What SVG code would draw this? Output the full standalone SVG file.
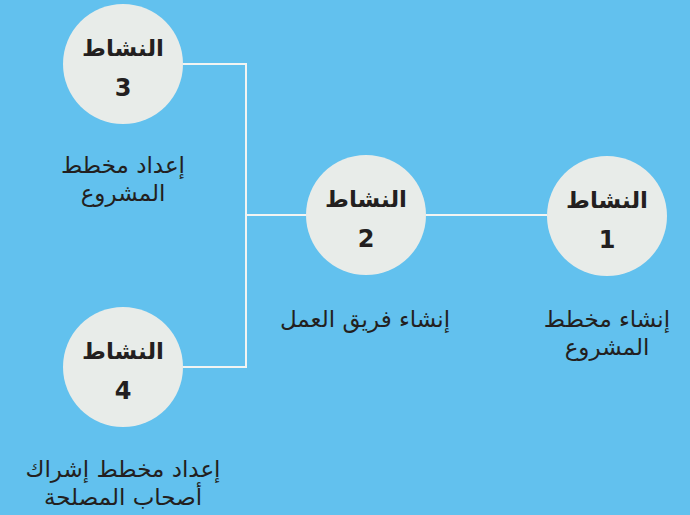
<svg xmlns="http://www.w3.org/2000/svg" width="690" height="515" viewBox="0 0 690 515">
<style>
.bg{fill:#62c1ee}
.node circle{fill:#e8ece9}
.conn{stroke:#f2f4f2;stroke-width:2;fill:none}
text{font-family:"DejaVu Sans","Noto Sans",sans-serif;fill:#231f20;text-anchor:middle}
.t{font-size:23px;font-weight:bold}
.n{font-size:24px;font-weight:bold}
.l{font-size:23px}
</style>
<rect class="bg" x="0" y="0" width="690" height="515"/>
<g id="connectors">
<path class="conn" d="M183,64 H246 V367 H183"/>
<path class="conn" d="M246,215 H306"/>
<path class="conn" d="M426,215 H547"/>
</g>
<g id="node1" class="node">
<circle cx="607" cy="216" r="60"/>
<text class="t" x="607" y="208" direction="rtl">النشاط</text>
<text class="n" x="607" y="248">1</text>
<text class="l" x="607" y="327" direction="rtl">إنشاء مخطط</text>
<text class="l" x="607" y="355" direction="rtl">المشروع</text>
</g>
<g id="node2" class="node">
<circle cx="366" cy="215" r="60"/>
<text class="t" x="366" y="207" direction="rtl">النشاط</text>
<text class="n" x="366" y="247">2</text>
<text class="l" x="365" y="327" direction="rtl">إنشاء فريق العمل</text>
</g>
<g id="node3" class="node">
<circle cx="123" cy="64" r="60"/>
<text class="t" x="123" y="56" direction="rtl">النشاط</text>
<text class="n" x="123" y="96">3</text>
<text class="l" x="123" y="173" direction="rtl">إعداد مخطط</text>
<text class="l" x="123" y="201" direction="rtl">المشروع</text>
</g>
<g id="node4" class="node">
<circle cx="123" cy="367" r="60"/>
<text class="t" x="123" y="359" direction="rtl">النشاط</text>
<text class="n" x="123" y="399">4</text>
<text class="l" x="123" y="477" direction="rtl">إعداد مخطط إشراك</text>
<text class="l" x="123" y="505" direction="rtl">أصحاب المصلحة</text>
</g>
</svg>
